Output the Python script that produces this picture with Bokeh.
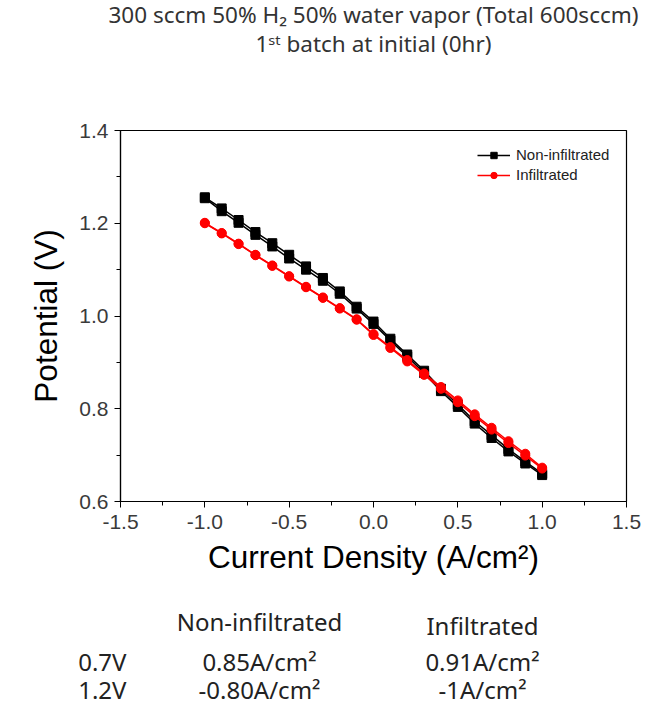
from bokeh.plotting import figure
from bokeh.models import Legend, LegendItem, FixedTicker, Range1d, LinearAxis, Title
from bokeh.layouts import column
from bokeh.core.properties import value
from bokeh.embed import file_html
from bokeh.resources import INLINE

# ---- data ----
current_density = [-1.0, -0.9, -0.8, -0.7, -0.6, -0.5, -0.4, -0.3, -0.2, -0.1, 0.0,
                   0.1, 0.2, 0.3, 0.4, 0.5, 0.6, 0.7, 0.8, 0.9, 1.0]
non_inf_scan1 = [1.256, 1.232, 1.207, 1.181, 1.157, 1.132, 1.107, 1.082, 1.053, 1.020, 0.988,
                 0.951, 0.917, 0.882, 0.843, 0.809, 0.773, 0.743, 0.713, 0.686, 0.660]
non_inf_scan2 = [1.254, 1.226, 1.201, 1.175, 1.150, 1.124, 1.100, 1.076, 1.048, 1.016, 0.983,
                 0.947, 0.913, 0.877, 0.838, 0.804, 0.768, 0.737, 0.708, 0.682, 0.657]
inf_scan1 = [1.201, 1.179, 1.156, 1.132, 1.109, 1.086, 1.063, 1.040, 1.017, 0.993, 0.961,
             0.933, 0.905, 0.876, 0.847, 0.818, 0.788, 0.759, 0.730, 0.703, 0.673]
inf_scan2 = [1.200, 1.178, 1.155, 1.131, 1.108, 1.085, 1.062, 1.039, 1.016, 0.992, 0.959,
             0.931, 0.902, 0.873, 0.843, 0.814, 0.784, 0.755, 0.726, 0.699, 0.671]

series_names = ["Non-infiltrated", "Infiltrated"]
title_lines = ["300 sccm 50% H\u2082 50% water vapor (Total 600sccm)",
               "1\u02e2\u1d57 batch at initial (0hr)"]
table_header = ["Non-infiltrated", "Infiltrated"]
table_rows = ["0.7V", "1.2V"]
table_non_inf = ["0.85A/cm\u00b2", "-0.80A/cm\u00b2"]
table_inf = ["0.91A/cm\u00b2", "-1A/cm\u00b2"]

x_ticks = [-1.5, -1.0, -0.5, 0.0, 0.5, 1.0, 1.5]
y_ticks = [0.6, 0.8, 1.0, 1.2, 1.4]

W = 656
FRAME_L, FRAME_R = 120, 626
FONT2 = "Noto Sans"


def blank(height):
    # column layout aligns the frames of all children with the main chart's frame,
    # so the x range maps page pixels FRAME_L..FRAME_R
    f = figure(width=W, height=height, output_backend="svg", toolbar_location=None,
               x_range=Range1d(FRAME_L, FRAME_R), y_range=Range1d(height, 0),
               x_axis_type=None, y_axis_type=None,
               min_border_left=FRAME_L, min_border_right=W - FRAME_R,
               min_border_top=0, min_border_bottom=0)
    f.grid.visible = False
    f.outline_line_color = None
    f.border_fill_color = "white"
    f.background_fill_color = "white"
    return f


# ---- header (two-line title, as Title annotations so they are not clipped) ----
header = blank(70)
header.add_layout(Title(text=title_lines[1], align="center", text_font=FONT2,
                        text_font_size="22.5px", text_font_style="normal",
                        text_color="#333333", standoff=0, offset=0), "above")
header.add_layout(Title(text=title_lines[0], align="center", text_font=FONT2,
                        text_font_size="22.5px", text_font_style="normal",
                        text_color="#333333", standoff=-8, offset=0), "above")

# ---- main chart ----
p = figure(width=W, height=521, output_backend="svg", toolbar_location=None,
           x_range=Range1d(-1.5, 1.5), y_range=Range1d(0.6, 1.4),
           min_border_left=FRAME_L, min_border_right=W - FRAME_R,
           min_border_top=60, min_border_bottom=90)
p.grid.visible = False
p.outline_line_color = "black"
p.outline_line_width = 1.2
p.background_fill_color = "white"
p.border_fill_color = "white"

for ax in (p.xaxis[0], p.yaxis[0]):
    ax.axis_line_color = "black"
    ax.axis_line_width = 1.2
    ax.major_tick_line_color = "black"
    ax.minor_tick_line_color = "black"
    ax.major_tick_out = 6
    ax.major_tick_in = 0
    ax.minor_tick_out = 4
    ax.minor_tick_in = 0
    ax.major_label_text_font = "Liberation Sans"
    ax.major_label_text_font_size = "21px"
    ax.major_label_text_color = "#3a3a3a"
    ax.axis_label_text_font = "Liberation Sans"
    ax.axis_label_text_font_size = "31.5px"
    ax.axis_label_text_font_style = "normal"
    ax.axis_label_text_color = "black"

p.xaxis.ticker = FixedTicker(ticks=x_ticks, minor_ticks=[-1.25, -0.75, -0.25, 0.25, 0.75, 1.25])
p.yaxis.ticker = FixedTicker(ticks=y_ticks, minor_ticks=[0.7, 0.9, 1.1, 1.3])
p.xaxis.major_label_overrides = {t: f"{t:.1f}" for t in x_ticks}
p.yaxis.major_label_overrides = {t: f"{t:.1f}" for t in y_ticks}
p.xaxis.axis_label = "Current Density (A/cm\u00b2)"
p.yaxis.axis_label = "Potential (V)"
p.xaxis.major_label_standoff = 7
p.yaxis.major_label_standoff = 6
p.xaxis.axis_label_standoff = 7
p.yaxis.axis_label_standoff = 12

l1 = p.line(current_density, non_inf_scan1, line_color="black", line_width=1.5)
l2 = p.line(current_density, non_inf_scan2, line_color="black", line_width=1.5)
m1 = p.scatter(current_density, non_inf_scan1, marker="square", size=9, color="black")
m2 = p.scatter(current_density, non_inf_scan2, marker="square", size=9, color="black")
r1 = p.line(current_density, inf_scan1, line_color="red", line_width=1.5)
r2 = p.line(current_density, inf_scan2, line_color="red", line_width=1.5)
c1 = p.scatter(current_density, inf_scan1, marker="circle", size=9, color="red")
c2 = p.scatter(current_density, inf_scan2, marker="circle", size=9, color="red")

legend = Legend(items=[LegendItem(label=series_names[0], renderers=[l1, m1]),
                       LegendItem(label=series_names[1], renderers=[r1, c1])],
                location=(357, 318), border_line_color=None, background_fill_alpha=0,
                label_text_font="Liberation Sans", label_text_font_size="15px",
                label_text_color="#222222",
                glyph_width=33, glyph_height=16, label_standoff=6, spacing=3, padding=3,
                label_height=16)
p.add_layout(legend, "center")

# ---- footer table ----
footer = blank(116)
col_x = [259, 482]
row_y = [70, 98]
fs = "24px"
footer.text(x=col_x, y=[30, 34], text=table_header, text_align="center",
            text_baseline="middle", text_font=value(FONT2), text_font_size=fs,
            text_color="#222222")
footer.text(x=[col_x[0]] * 2, y=row_y, text=table_non_inf, text_align="center",
            text_baseline="middle", text_font=value(FONT2), text_font_size=fs,
            text_color="#222222")
footer.text(x=[col_x[1]] * 2, y=row_y, text=table_inf, text_align="center",
            text_baseline="middle", text_font=value(FONT2), text_font_size=fs,
            text_color="#222222")
# row labels sit left of the (aligned) frame, so draw them as a bare axis
row_axis = LinearAxis(ticker=FixedTicker(ticks=row_y, minor_ticks=[]),
                      major_label_overrides={y: t for y, t in zip(row_y, table_rows)},
                      axis_line_color=None, major_tick_line_color=None,
                      minor_tick_line_color=None, major_label_standoff=-12,
                      major_label_text_font=FONT2, major_label_text_font_size=fs,
                      major_label_text_color="#222222")
footer.add_layout(row_axis, "left")

layout = column(header, p, footer, spacing=0)
open("out.html", "w").write(file_html(layout, INLINE))
